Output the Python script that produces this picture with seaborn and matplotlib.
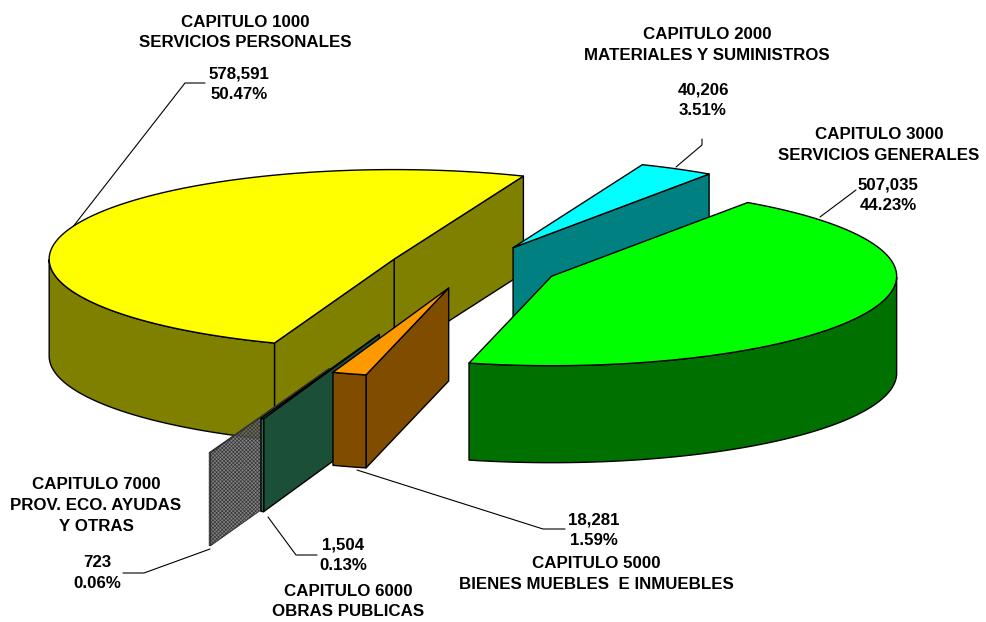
import numpy as np
import matplotlib
matplotlib.use("Agg")
import matplotlib.pyplot as plt
from matplotlib.patches import Polygon
import seaborn as sns

# ---- data ----
chapters = ["CAPITULO 1000", "CAPITULO 2000", "CAPITULO 3000", "CAPITULO 5000", "CAPITULO 6000", "CAPITULO 7000"]
descriptions = ["SERVICIOS PERSONALES", "MATERIALES Y SUMINISTROS", "SERVICIOS GENERALES",
                "BIENES MUEBLES  E INMUEBLES", "OBRAS PUBLICAS", "PROV. ECO. AYUDAS\nY OTRAS"]
amounts = [578591, 40206, 507035, 18281, 1504, 723]
percents = ["50.47%", "3.51%", "44.23%", "1.59%", "0.13%", "0.06%"]
top_colors = ["#FFFF00", "#00FFFF", "#00FF00", "#FF9900", "#339966", "#666666"]
side_colors = ["#808000", "#008080", "#007000", "#804C00", "#1C4F38", "#707070"]
wall_colors = ["#808000", "#008080", "#007000", "#804C00", "#2A7055", "#707070"]
explode = [0.245, 0.245, 0.25, 0.245, 0.80, 1.21]
depths = [97, 97, 97, 93, 93, 93]

# ---- pie geometry (pixel space of the 3D projection) ----
CX, CY = 473.0, 267.0
RX, RY = 345.0, 89.5
START = 68.0
draw_order = [0, 1, 2, 5, 4, 3]

sns.set_theme(style="white")
plt.rcParams["font.family"] = ["Liberation Sans", "DejaVu Sans"]
plt.rcParams["hatch.linewidth"] = 0.45

fig = plt.figure(figsize=(9.86, 6.22), dpi=100)
ax = fig.add_axes([0, 0, 1, 1])
ax.set_xlim(0, 986)
ax.set_ylim(622, 0)
ax.axis("off")

vals = np.array(amounts, dtype=float)
sweeps = vals / vals.sum() * 360.0
ends = START + sweeps[0] - np.concatenate([[0.0], np.cumsum(sweeps)[:-1]])  # clockwise from START
starts = ends - sweeps


def pt(apex, deg):
    d = np.radians(deg)
    return np.column_stack([apex[0] + RX * np.cos(d), apex[1] - RY * np.sin(d)])


def slab(points, color, z, hatch=None, lw=1.0, edge="black"):
    ax.add_patch(Polygon(points, closed=True, facecolor=color, edgecolor=edge, linewidth=lw,
                         joinstyle="round", zorder=z, hatch=hatch))


for z, i in enumerate(draw_order):
    a0, a1 = starts[i], ends[i]            # ccw span a0 -> a1
    mid = np.radians((a0 + a1) / 2)
    apex = (CX + explode[i] * RX * np.cos(mid), CY - explode[i] * RY * np.sin(mid))
    base = 10 + z * 5
    down = np.array([0, depths[i]])
    A = np.array(apex)
    is_gray = i == 5
    face = (0.42, 0.42, 0.42, 0.85) if is_gray else side_colors[i]
    hatch = "xxxxxxxxx" if is_gray else None
    edge = "#333333" if is_gray else "black"
    lw = 0.7 if is_gray else 1.0
    # cut face on the clockwise boundary
    if np.cos(np.radians(a0)) > 0:
        e = pt(apex, a0)[0]
        slab([A, e, e + down, A + down], face, base, hatch, lw, edge)
    # cut face on the counter-clockwise boundary
    if np.cos(np.radians(a1)) < 0:
        e = pt(apex, a1)[0]
        slab([A, e, e + down, A + down], face, base, hatch, lw, edge)
    # outer wall: lower half of the rim
    ts = np.linspace(a0, a1, 200)
    ts_norm = (ts + 360) % 360
    vis = ts[(ts_norm > 180) & (ts_norm < 360)]
    if vis.size:
        rim = pt(apex, vis)
        slab(np.vstack([rim, rim[::-1] + down]), face if is_gray else wall_colors[i], base + 1, hatch, lw, edge)
    # top surface
    slab(np.vstack([[A], pt(apex, ts)]), top_colors[i], base + 2, None, lw, edge)

# ---- labels ----
kw = dict(fontsize=12.2, fontweight="bold", color="black", ha="center", va="center",
          linespacing=1.48, zorder=100)
def lab(x, y, s):
    ax.text(x, y, s, **kw)

def amt(i):
    return f"{amounts[i]:,}\n{percents[i]}"

lab(245, 32.5, chapters[0] + "\n" + descriptions[0])
lab(239, 84.5, amt(0))
lab(707, 45, chapters[1] + "\n" + descriptions[1])
lab(703, 100, amt(1))
lab(879, 145, chapters[2] + "\n" + descriptions[2])
lab(888, 195, amt(2))
lab(596, 574, chapters[3] + "\n" + descriptions[3])
lab(594, 530, amt(3))
lab(348, 601.5, chapters[4] + "\n" + descriptions[4])
lab(343, 555, amt(4))
lab(96, 505.5, chapters[5] + "\n" + descriptions[5])
lab(97, 573, amt(5))

# ---- leader lines ----
leaders = [
    ([72, 185, 205], [228, 83, 83]),
    ([676, 702, 702], [167, 145, 139]),
    ([820, 856], [217, 190]),
    ([357, 543, 565], [470, 529, 529]),
    ([268, 296, 317], [517, 555, 555]),
    ([210, 144, 123], [549, 573, 573]),
]
for xs, ys in leaders:
    ax.plot(xs, ys, color="black", lw=0.8, zorder=5)

fig.savefig("out.png", dpi=100, facecolor="white")
